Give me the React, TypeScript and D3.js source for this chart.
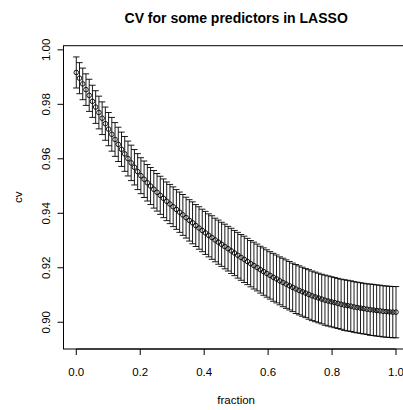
import React from "react";
import * as d3 from "d3";

const fraction: number[] = Array.from({ length: 100 }, (_, i) => i / 99);

const cv: number[] = [
  0.9917, 0.9896, 0.9875, 0.9854, 0.9833, 0.9811, 0.979, 0.977, 0.9749, 0.9729,
  0.9709, 0.969, 0.9671, 0.9653, 0.9635, 0.9618, 0.9601, 0.9585, 0.9569, 0.9553,
  0.9538, 0.9525, 0.9512, 0.95, 0.9488, 0.9477, 0.9466, 0.9455, 0.9444, 0.9434,
  0.9424, 0.9414, 0.9404, 0.9394, 0.9384, 0.9374, 0.9365, 0.9355, 0.9346, 0.9337,
  0.9328, 0.9319, 0.9311, 0.9302, 0.9294, 0.9286, 0.9278, 0.927, 0.9262, 0.9254,
  0.9246, 0.9238, 0.9231, 0.9223, 0.9215, 0.9208, 0.9201, 0.9193, 0.9186, 0.9179,
  0.9172, 0.9165, 0.9159, 0.9152, 0.9146, 0.914, 0.9134, 0.9128, 0.9122, 0.9117,
  0.9112, 0.9107, 0.9102, 0.9097, 0.9093, 0.9089, 0.9085, 0.9081, 0.9078, 0.9075,
  0.9072, 0.9069, 0.9066, 0.9063, 0.9061, 0.9059, 0.9056, 0.9054, 0.9052, 0.905,
  0.9048, 0.9046, 0.9045, 0.9043, 0.9042, 0.904, 0.9039, 0.9038, 0.9037, 0.9037,
];

const cvError: number[] = [
  0.0057, 0.0057, 0.0058, 0.0058, 0.0059, 0.0059, 0.006, 0.006, 0.006, 0.0061,
  0.0061, 0.0062, 0.0062, 0.0063, 0.0063, 0.0064, 0.0064, 0.0065, 0.0065, 0.0066,
  0.0066, 0.0067, 0.0067, 0.0068, 0.0069, 0.0069, 0.007, 0.0071, 0.0071, 0.0072,
  0.0073, 0.0073, 0.0074, 0.0075, 0.0075, 0.0076, 0.0077, 0.0077, 0.0078, 0.0078,
  0.0079, 0.0079, 0.008, 0.008, 0.0081, 0.0081, 0.0082, 0.0082, 0.0083, 0.0083,
  0.0084, 0.0084, 0.0085, 0.0085, 0.0085, 0.0086, 0.0086, 0.0086, 0.0087, 0.0087,
  0.0087, 0.0088, 0.0088, 0.0088, 0.0089, 0.0089, 0.0089, 0.0089, 0.009, 0.009,
  0.009, 0.009, 0.0091, 0.0091, 0.0091, 0.0091, 0.0091, 0.0092, 0.0092, 0.0092,
  0.0092, 0.0092, 0.0092, 0.0093, 0.0093, 0.0093, 0.0093, 0.0093, 0.0093, 0.0093,
  0.0093, 0.0094, 0.0094, 0.0094, 0.0094, 0.0094, 0.0094, 0.0094, 0.0094, 0.0094,
];

const xTicks: number[] = [0, 0.2, 0.4, 0.6, 0.8, 1.0];
const yTicks: number[] = [0.9, 0.92, 0.94, 0.96, 0.98, 1.0];

const title = "CV for some predictors in LASSO";
const xLabel = "fraction";
const yLabel = "cv";

const W = 403;
const H = 410;
const box = { left: 63.5, right: 408.8, top: 45.7, bottom: 349 };
const font = "'Liberation Sans', Arial, Helvetica, sans-serif";

export default function App() {
  const lo = d3.min(cv.map((v, i) => v - cvError[i])) as number;
  const hi = d3.max(cv.map((v, i) => v + cvError[i])) as number;
  const pad = 0.04 * (hi - lo);
  const x = d3.scaleLinear().domain([-0.04, 1.04]).range([box.left, box.right]);
  const y = d3.scaleLinear().domain([lo - pad, hi + pad]).range([box.bottom, box.top]);
  const capW = 0.01;
  const sw = 0.9;

  return (
    <svg
      width={W}
      height={H}
      style={{ position: "absolute", left: 0, top: 0, background: "#fff" }}
    >
      <rect x={0} y={0} width={W} height={H} fill="#fff" />
      {/* error bars */}
      <g stroke="#000" strokeWidth={sw} fill="none">
        {fraction.map((f, i) => {
          const up = y(cv[i] + cvError[i]);
          const dn = y(cv[i] - cvError[i]);
          return (
            <g key={i}>
              <line x1={x(f)} x2={x(f)} y1={up} y2={dn} />
              <line x1={x(f - capW)} x2={x(f + capW)} y1={up} y2={up} />
              <line x1={x(f - capW)} x2={x(f + capW)} y1={dn} y2={dn} />
            </g>
          );
        })}
      </g>
      {/* points */}
      <g stroke="#000" strokeWidth={sw} fill="none">
        {fraction.map((f, i) => (
          <circle key={i} cx={x(f)} cy={y(cv[i])} r={2.3} />
        ))}
      </g>
      {/* box */}
      <rect
        x={box.left}
        y={box.top}
        width={box.right - box.left}
        height={box.bottom - box.top}
        fill="none"
        stroke="#000"
        strokeWidth={1}
      />
      {/* x axis */}
      <g stroke="#000" strokeWidth={1}>
        <line x1={x(xTicks[0])} x2={x(xTicks[xTicks.length - 1])} y1={box.bottom} y2={box.bottom} />
        {xTicks.map((t) => (
          <line key={t} x1={x(t)} x2={x(t)} y1={box.bottom} y2={box.bottom + 6} />
        ))}
      </g>
      <g fontFamily={font} fontSize={11.5} fill="#000" textAnchor="middle">
        {xTicks.map((t) => (
          <text key={t} x={x(t)} y={376}>
            {t.toFixed(1)}
          </text>
        ))}
        <text x={(box.left + box.right) / 2} y={404}>
          {xLabel}
        </text>
      </g>
      {/* y axis */}
      <g stroke="#000" strokeWidth={1}>
        <line x1={box.left} x2={box.left} y1={y(yTicks[0])} y2={y(yTicks[yTicks.length - 1])} />
        {yTicks.map((t) => (
          <line key={t} x1={box.left - 6} x2={box.left} y1={y(t)} y2={y(t)} />
        ))}
      </g>
      <g fontFamily={font} fontSize={11.5} fill="#000" textAnchor="middle">
        {yTicks.map((t) => (
          <text key={t} transform={`translate(49.5,${y(t)}) rotate(-90)`}>
            {t.toFixed(2)}
          </text>
        ))}
        <text transform={`translate(21.5,${(box.top + box.bottom) / 2}) rotate(-90)`}>
          {yLabel}
        </text>
      </g>
      <text
        x={(box.left + box.right) / 2}
        y={23}
        fontFamily={font}
        fontSize={14}
        fontWeight="bold"
        textAnchor="middle"
        fill="#000"
      >
        {title}
      </text>
    </svg>
  );
}
